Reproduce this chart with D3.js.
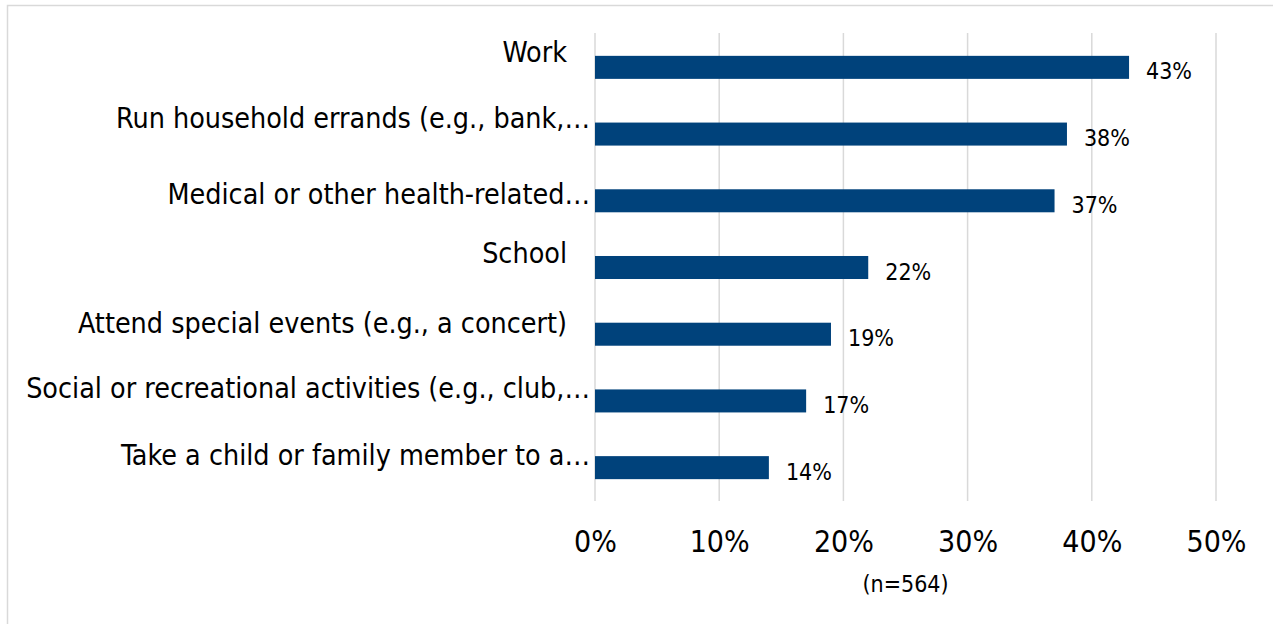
<!DOCTYPE html>
<html>
<head>
<meta charset="utf-8">
<script src="https://cdn.jsdelivr.net/npm/d3@7"></script>
<style>
  html, body { margin: 0; padding: 0; background: #fff; }
  svg { display: block; }
  text { font-family: "DejaVu Sans Condensed", "DejaVu Sans", sans-serif; fill: #000; }
</style>
</head>
<body>
<svg id="chart" width="1273" height="624"></svg>
<script>
// ---- data ----
const categories = [
  "Work",
  "Run household errands (e.g., bank,\u2026",
  "Medical or other health-related\u2026",
  "School",
  "Attend special events (e.g., a concert)",
  "Social or recreational activities (e.g., club,\u2026",
  "Take a child or family member to a\u2026"
];
const values = [43, 38, 37, 22, 19, 17, 14];
const tickValues = [0, 10, 20, 30, 40, 50];
const tickLabels = ["0%", "10%", "20%", "30%", "40%", "50%"];
const note = "(n=564)";

// ---- layout (not data) ----
const W = 1273, H = 624;
const plot = { left: 595, right: 1216, top: 34, bottom: 501 };
const labelBaselineShift = [-5, -6.5, 3.5, -5, -1.5, -3, -3];
const barColor = "#00427b";
const gridColor = "#d9d9d9";

const svg = d3.select("#chart");

// outer border (extends beyond the view on right / bottom)
svg.append("rect")
  .attr("x", 7.5).attr("y", 5.5)
  .attr("width", W + 20).attr("height", H + 20)
  .attr("fill", "none").attr("stroke", gridColor).attr("stroke-width", 1.5);

const x = d3.scaleLinear().domain([0, 50]).range([plot.left, plot.right]);
const y = d3.scaleBand().domain(categories)
  .range([plot.top, plot.bottom]).paddingInner(0.655).paddingOuter(0.655 / 2);

// gridlines
svg.append("g").selectAll("line").data(tickValues).join("line")
  .attr("x1", d => x(d)).attr("x2", d => x(d))
  .attr("y1", plot.top - 1).attr("y2", plot.bottom)
  .attr("stroke", gridColor).attr("stroke-width", 1.5);

// bars
svg.append("g").selectAll("rect").data(values).join("rect")
  .attr("x", x(0))
  .attr("y", (d, i) => y(categories[i]))
  .attr("width", d => x(d) - x(0))
  .attr("height", y.bandwidth())
  .attr("fill", barColor);

// data labels
svg.append("g").selectAll("text").data(values).join("text")
  .attr("x", d => x(d) + 17)
  .attr("y", (d, i) => y(categories[i]) + y.bandwidth() / 2 + 12)
  .attr("font-size", 23)
  .text(d => d + "%");

// x axis
const xAxis = d3.axisBottom(x)
  .tickValues(tickValues)
  .tickFormat((d, i) => tickLabels[i])
  .tickSize(0).tickPadding(0);
const ax = svg.append("g").attr("transform", `translate(0,${plot.bottom})`).call(xAxis);
ax.select(".domain").remove();
ax.selectAll("text")
  .attr("y", 51).attr("dy", 0)
  .attr("font-size", 30)
  .attr("font-family", '"DejaVu Sans Condensed", "DejaVu Sans", sans-serif')
  .attr("fill", "#000");

// category labels
const catG = svg.append("g");
const labelSize = 27.5;
const cat = catG.selectAll("text").data(categories).join("text")
  .attr("font-size", labelSize)
  .attr("text-anchor", "end")
  .text(d => d);
// horizontal stretch to match the reference face (Tahoma-like)
let longest = 0;
cat.each(function () { longest = Math.max(longest, this.getComputedTextLength()); });
const sx = 564 / longest;
cat.attr("transform", (d, i) => {
  const right = d.endsWith("\u2026") ? 590 : 567;
  const base = y(d) + y.bandwidth() / 2 + labelBaselineShift[i];
  return `translate(${right},${base}) scale(${sx},1)`;
});

// note
svg.append("text")
  .attr("x", (plot.left + plot.right) / 2)
  .attr("y", 592)
  .attr("text-anchor", "middle")
  .attr("font-size", 23)
  .text(note);
</script>
</body>
</html>
